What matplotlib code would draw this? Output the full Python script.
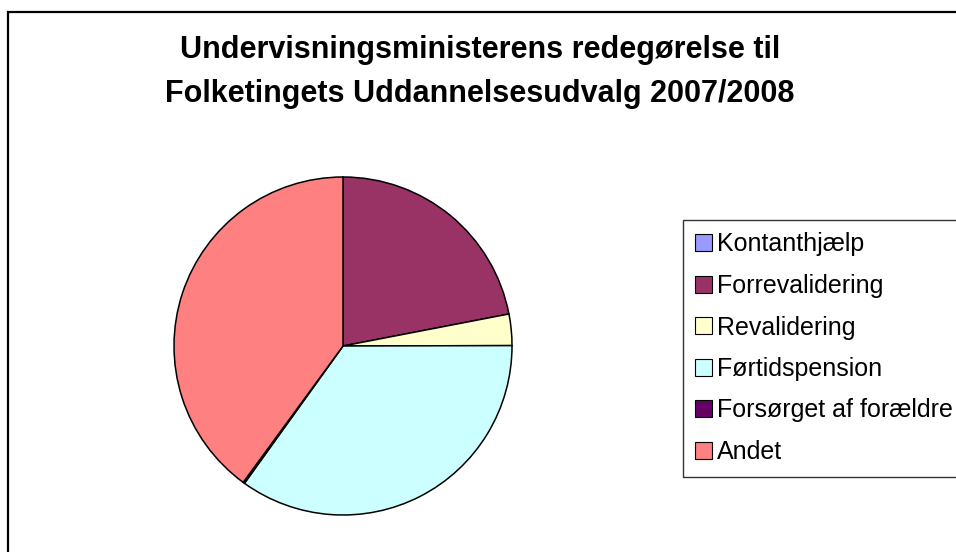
import matplotlib
matplotlib.use("Agg")
import matplotlib.pyplot as plt
from matplotlib.patches import Rectangle, Patch

plt.rcParams['font.family'] = ['Liberation Sans', 'DejaVu Sans']

categories = ["Kontanthjælp", "Forrevalidering", "Revalidering", "Førtidspension",
              "Forsørget af forældre", "Andet"]
values = [0.0, 22.0, 3.0, 35.0, 0.15, 40.0]
colors = ["#9999FF", "#993366", "#FFFFCC", "#CCFFFF", "#660066", "#FF8080"]
title = "Undervisningsministerens redegørelse til\nFolketingets Uddannelsesudvalg 2007/2008"

W, H = 956, 552
fig = plt.figure(figsize=(W / 100, H / 100), dpi=100)

# outer chart frame (extends beyond the image on right and bottom)
fig.add_artist(Rectangle((8 / W, -0.1), 1.2, 1 - 12 / H + 0.1, transform=fig.transFigure,
                         fill=False, edgecolor="black", linewidth=1.6))

cx, cy, r = 343, 346, 169
ax = fig.add_axes([(cx - r) / W, (H - cy - r) / H, 2 * r / W, 2 * r / H])
ax.pie(values, colors=colors, startangle=90, counterclock=False, radius=1,
       wedgeprops=dict(edgecolor="black", linewidth=1.1))
ax.set_xlim(-1, 1)
ax.set_ylim(-1, 1)
ax.set_aspect("equal")
ax.axis("off")

fig.text(480 / W, 1 - 72 / H, title, ha="center", va="center", fontsize=22,
         fontweight="bold", linespacing=1.62)

handles = [Patch(facecolor=c, edgecolor="black", linewidth=0.8) for c in colors]
leg = fig.legend(handles, categories, loc="upper left",
                 bbox_to_anchor=(682.7 / W, 1 - 220 / H), fontsize=18,
                 frameon=True, fancybox=False, edgecolor="black",
                 handlelength=0.68, handleheight=0.68, handletextpad=0.2,
                 labelspacing=0.7, borderpad=0.5, borderaxespad=0)
leg.get_frame().set_linewidth(1.0)

fig.savefig("out.png", dpi=100)
